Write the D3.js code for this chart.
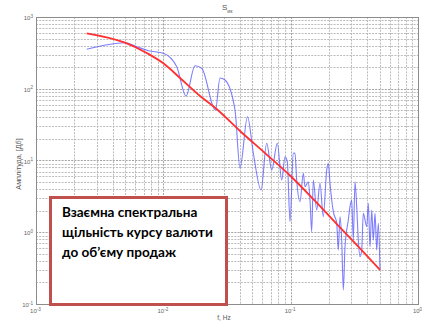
<!DOCTYPE html>
<html>
<head>
<meta charset="utf-8">
<script src="https://cdn.jsdelivr.net/npm/d3@7"></script>
<style>
  html, body { margin: 0; padding: 0; background: #fff; }
  svg { display: block; }
</style>
</head>
<body>
<svg id="chart" width="422" height="321"></svg>
<script>
// Fitted (smoothed) cross-spectral density
const freqFit = [0.002502, 0.005, 0.007402, 0.01, 0.01352, 0.01941, 0.02593, 0.04, 0.06288, 0.09881, 0.1553, 0.2441, 0.3504, 0.5029];
const ampFit  = [592.7, 438.2, 315.0, 226.2, 141.2, 79.3, 53.0, 25.8, 12.7, 6.18, 2.73, 1.165, 0.594, 0.298];

// Raw cross-spectral density estimate
const freqSpec = [0.002502, 0.005, 0.006178, 0.007621, 0.01, 0.01274, 0.01507, 0.01773, 0.02001, 0.02569,
  0.02787, 0.0305, 0.03655, 0.04, 0.04581, 0.05088, 0.05851, 0.06482, 0.07096, 0.07855,
  0.08506, 0.09026, 0.0941, 0.09881, 0.1049, 0.1081, 0.1115, 0.1184, 0.1257, 0.1296,
  0.1376, 0.1419, 0.1463, 0.1506, 0.1601, 0.17, 0.1804, 0.1919, 0.1975, 0.2037,
  0.2101, 0.2163, 0.23, 0.2367, 0.2441, 0.2517, 0.2591, 0.2672, 0.2836, 0.2924,
  0.3016, 0.3104, 0.3201, 0.3301, 0.3398, 0.3504, 0.3613, 0.372, 0.3956, 0.4073,
  0.42, 0.4331, 0.4457, 0.4597, 0.474, 0.488, 0.5029];
const ampSpec = [354.6, 438.2, 385.6, 339.0, 311.9, 202.9, 79.3, 209.6, 192.8, 50.55,
  141.2, 132.4, 50.55, 7.863, 40.77, 12.72, 3.88, 17.37, 7.373, 17.37,
  5.348, 11.3, 9.623, 1.403, 12.6, 12.72, 5.348, 2.666, 6.631, 4.313,
  5.064, 2.815, 1.018, 5.348, 2.042, 4.81, 1.647, 7.373, 9.141, 4.81,
  2.815, 1.933, 1.332, 0.5656, 1.647, 0.7798, 0.1567, 0.6289, 1.481, 2.27,
  2.815, 0.7798, 5.064, 2.27, 0.7798, 0.4561, 0.5656, 1.836, 1.195, 2.532,
  0.6289, 2.042, 0.7798, 1.836, 0.5656, 1.332, 0.298];

const xTickExps = [-3, -2, -1, 0];
const yTickExps = [3, 2, 1, 0, -1];
const titleMain = "S";
const titleSub = "ик";
const xLabel = "f, Hz";
const yLabel = "Амплітуда, [Дб]";
const noteLines = ["Взаємна спектральна", "щільність курсу валюти", "до об’єму продаж"];

const svg = d3.select("#chart");
const plot = { left: 36, top: 17, right: 418, bottom: 304 };

const x = d3.scaleLog().domain([1e-3, 1]).range([plot.left, plot.right]);
const y = d3.scaleLog().domain([0.1, 1000]).range([plot.bottom, plot.top]);

svg.append("rect").attr("width", 422).attr("height", 321).attr("fill", "#fff");

// grid (major + minor, dotted)
const grid = svg.append("g");
const isMajor = v => Math.abs(Math.log10(v) - Math.round(Math.log10(v))) < 1e-9;
grid.selectAll("line.gx").data(x.ticks()).join("line")
  .attr("x1", d => Math.round(x(d)) + 0.5).attr("x2", d => Math.round(x(d)) + 0.5)
  .attr("y1", plot.top).attr("y2", plot.bottom)
  .attr("stroke", d => isMajor(d) ? "#999" : "#b4b4b4")
  .attr("stroke-width", 0.9)
  .attr("stroke-dasharray", "2,1.2");
grid.selectAll("line.gy").data(y.ticks()).join("line")
  .attr("y1", d => Math.round(y(d)) + 0.5).attr("y2", d => Math.round(y(d)) + 0.5)
  .attr("x1", plot.left).attr("x2", plot.right)
  .attr("stroke", d => isMajor(d) ? "#999" : "#b4b4b4")
  .attr("stroke-width", 0.9)
  .attr("stroke-dasharray", "2,1.2");

// axes box
svg.append("rect")
  .attr("x", plot.left + 0.5).attr("y", plot.top + 0.5)
  .attr("width", plot.right - plot.left).attr("height", plot.bottom - plot.top)
  .attr("fill", "none").attr("stroke", "#8c8c8c").attr("stroke-width", 1);

// power-of-ten tick labels
function powerLabel(sel) {
  sel.each(function(d) {
    const t = d3.select(this);
    const e = Math.round(Math.log10(d));
    t.text(null);
    t.append("tspan").text("10");
    t.append("tspan").attr("dy", "-0.55em").attr("font-size", "4.6px").text(e);
  });
}
const xAxis = d3.axisBottom(x).tickValues(xTickExps.map(e => Math.pow(10, e))).tickSize(0).tickPadding(5);
const gx = svg.append("g").attr("transform", `translate(0,${plot.bottom})`).call(xAxis);
gx.select(".domain").remove();
gx.selectAll("text").attr("font-family", "Liberation Sans, Arial, sans-serif")
  .attr("font-size", "6px").attr("fill", "#666").attr("dx", "-1px").call(powerLabel);

const yAxis = d3.axisLeft(y).tickValues(yTickExps.map(e => Math.pow(10, e))).tickSize(0).tickPadding(3);
const gy = svg.append("g").attr("transform", `translate(${plot.left},0)`).call(yAxis);
gy.select(".domain").remove();
gy.selectAll("text").attr("font-family", "Liberation Sans, Arial, sans-serif")
  .attr("font-size", "6px").attr("fill", "#666").attr("dy", "0.45em").call(powerLabel);

// title
const tt = svg.append("text").attr("x", 222).attr("y", 10)
  .attr("font-family", "Liberation Sans, Arial, sans-serif").attr("font-size", "8px").attr("fill", "#555");
tt.append("tspan").text(titleMain);
tt.append("tspan").attr("dy", "3px").attr("font-size", "5px").text(titleSub);

// axis titles
svg.append("text").attr("x", 224).attr("y", 319.5).attr("text-anchor", "middle")
  .attr("font-family", "Liberation Sans, Arial, sans-serif").attr("font-size", "6.5px").attr("fill", "#555")
  .text(xLabel);
svg.append("text").attr("transform", "translate(21,164) rotate(-90)").attr("text-anchor", "middle")
  .attr("font-family", "Liberation Sans, Arial, sans-serif").attr("font-size", "7.2px").attr("fill", "#555")
  .text(yLabel);

// series
const clip = svg.append("clipPath").attr("id", "plotclip").append("rect")
  .attr("x", plot.left).attr("y", plot.top).attr("width", plot.right - plot.left).attr("height", plot.bottom - plot.top);

const spec = freqSpec.map((f, i) => [f, ampSpec[i]]);
const fit = freqFit.map((f, i) => [f, ampFit[i]]);

svg.append("path").datum(spec)
  .attr("clip-path", "url(#plotclip)")
  .attr("fill", "none").attr("stroke", "#5a5aff").attr("stroke-opacity", 0.78)
  .attr("stroke-width", 1.1).attr("stroke-linejoin", "round")
  .attr("d", d3.line().x(d => x(d[0])).y(d => y(d[1])).curve(d3.curveMonotoneX));

svg.append("path").datum(fit)
  .attr("clip-path", "url(#plotclip)")
  .attr("fill", "none").attr("stroke", "#ff3030").attr("stroke-width", 1.8)
  .attr("d", d3.line().x(d => x(d[0])).y(d => y(d[1])).curve(d3.curveMonotoneX));

// annotation box
svg.append("rect").attr("x", 50.5).attr("y", 197.5).attr("width", 176).attr("height", 107)
  .attr("fill", "#fff").attr("stroke", "#c0504d").attr("stroke-width", 3);

const note = svg.append("g").attr("font-family", "Lato, 'Open Sans', sans-serif")
  .attr("font-weight", "bold").attr("fill", "#000");
const noteText = note.selectAll("text").data(noteLines).join("text")
  .attr("x", 62).attr("y", (d, i) => 216.5 + i * 20)
  .attr("font-size", "14px").text(d => d);
// scale the note font so the widest line spans the box interior
const w2 = noteText.nodes()[1].getComputedTextLength();
const fs = 14 * 151 / w2;
noteText.attr("font-size", fs + "px");
</script>
</body>
</html>
